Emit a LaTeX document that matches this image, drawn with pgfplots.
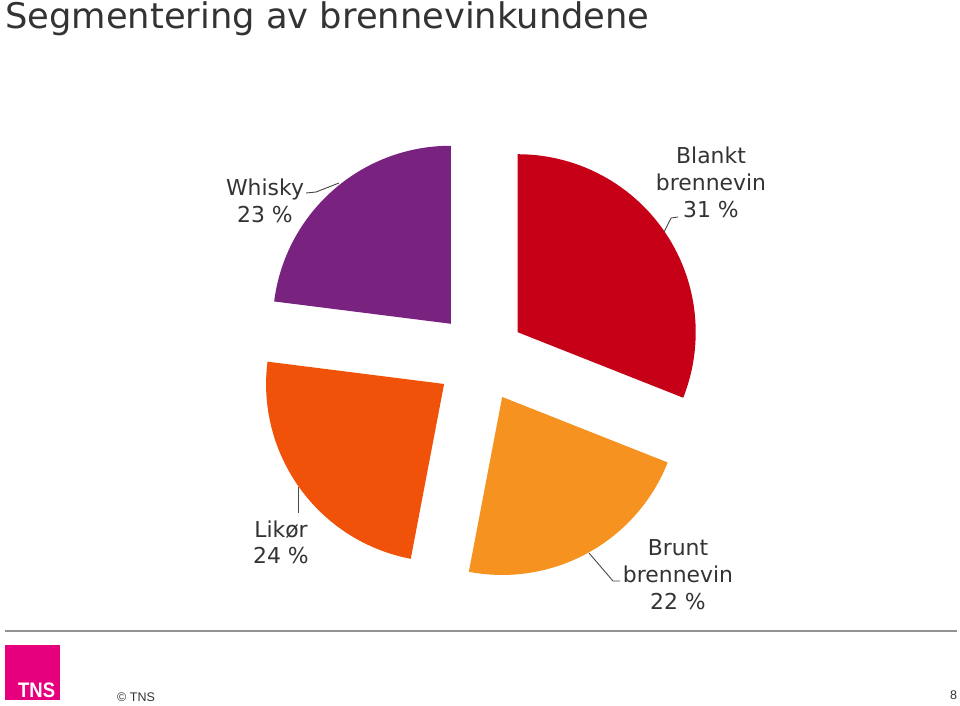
\documentclass[border=0pt]{standalone}
\usepackage{pgfplots}
\pgfplotsset{compat=1.18}
\usepackage{pgfplotstable}
\usepackage{fontspec}
\setmainfont{DejaVu Sans}
\newfontfamily\footfont{Liberation Sans}

\definecolor{txt}{HTML}{333333}
\definecolor{slice0}{RGB}{197,0,23}
\definecolor{slice1}{RGB}{245,146,32}
\definecolor{slice2}{RGB}{240,82,9}
\definecolor{slice3}{RGB}{122,34,128}
\definecolor{tnsmag}{RGB}{230,0,126}

\tikzset{
  lab/.style={text=txt, font=\fontsize{21.9}{26}\selectfont, inner sep=0pt},
  leader/.style={draw=txt!90, line width=0.9pt},
}

% share in percent, drawn clockwise from 12 o'clock
\pgfplotstableread{
label value
Blankt 31
Brunt 22
Likor 24
Whisky 23
}\piedata

\begin{document}
\begin{tikzpicture}
\begin{axis}[
  x=1pt, y=1pt,
  xmin=0, xmax=960, ymin=0, ymax=705,
  y dir=reverse,
  hide axis, clip=false, scale only axis,
]
\path (axis cs:0,0) rectangle (axis cs:960,705);

% pie slices from the table
\def\cumstart{90}
\pgfplotsforeachungrouped \i in {0,...,3}{%
  \pgfplotstablegetelem{\i}{value}\of\piedata
  \pgfmathsetmacro\sweep{3.6*\pgfplotsretval}%
  \pgfmathsetmacro\endang{\cumstart-\sweep}%
  \pgfmathsetmacro\midang{\cumstart-\sweep/2}%
  \edef\temp{\noexpand\fill[slice\i] (axis cs:480.5,357.5) ++(\midang:45pt) -- ++(\cumstart:178pt) arc[start angle=\cumstart, end angle=\endang, radius=178pt] -- cycle;}%
  \temp
  \global\let\cumstart\endang
}

% title
\node[anchor=base west, text=txt, inner sep=0pt, font=\fontsize{35.3}{40}\selectfont] at (axis cs:5,28) {Segmentering av brennevinkundene};

% labels
\node[lab, anchor=base] at (axis cs:265,195) {Whisky};
\node[lab, anchor=base] at (axis cs:265,222) {23 \%};
\draw[leader] (axis cs:306,193) -- (axis cs:316,192) -- (axis cs:339,183);

\node[lab, anchor=base] at (axis cs:711,163) {Blankt};
\node[lab, anchor=base] at (axis cs:711,190) {brennevin};
\node[lab, anchor=base] at (axis cs:711,217) {31 \%};
\draw[leader] (axis cs:678,217) -- (axis cs:671,218) -- (axis cs:664,232);

\node[lab, anchor=base] at (axis cs:281,537) {Likør};
\node[lab, anchor=base] at (axis cs:281,563) {24 \%};
\draw[leader] (axis cs:298,487) -- (axis cs:298,513);

\node[lab, anchor=base] at (axis cs:678,555) {Brunt};
\node[lab, anchor=base] at (axis cs:678,582) {brennevin};
\node[lab, anchor=base] at (axis cs:678,609) {22 \%};
\draw[leader] (axis cs:620,581) -- (axis cs:613,581) -- (axis cs:589,553);

% footer
\draw[gray!85, line width=1.5pt] (axis cs:5,631) -- (axis cs:957,631);
\fill[tnsmag] (axis cs:5,645) rectangle (axis cs:60,700);
\node[anchor=base west, text=white, inner sep=0pt, font=\footfont\bfseries\fontsize{21}{21}\selectfont] at (axis cs:18,697) {\scalebox{0.88}[1]{TNS}};
\node[anchor=base west, text=txt, inner sep=0pt, font=\footfont\fontsize{12.5}{12.5}\selectfont] at (axis cs:117,701) {© TNS};
\node[anchor=base west, text=txt, inner sep=0pt, font=\footfont\fontsize{12.5}{12.5}\selectfont] at (axis cs:950,699) {8};
\end{axis}
\end{tikzpicture}
\end{document}
